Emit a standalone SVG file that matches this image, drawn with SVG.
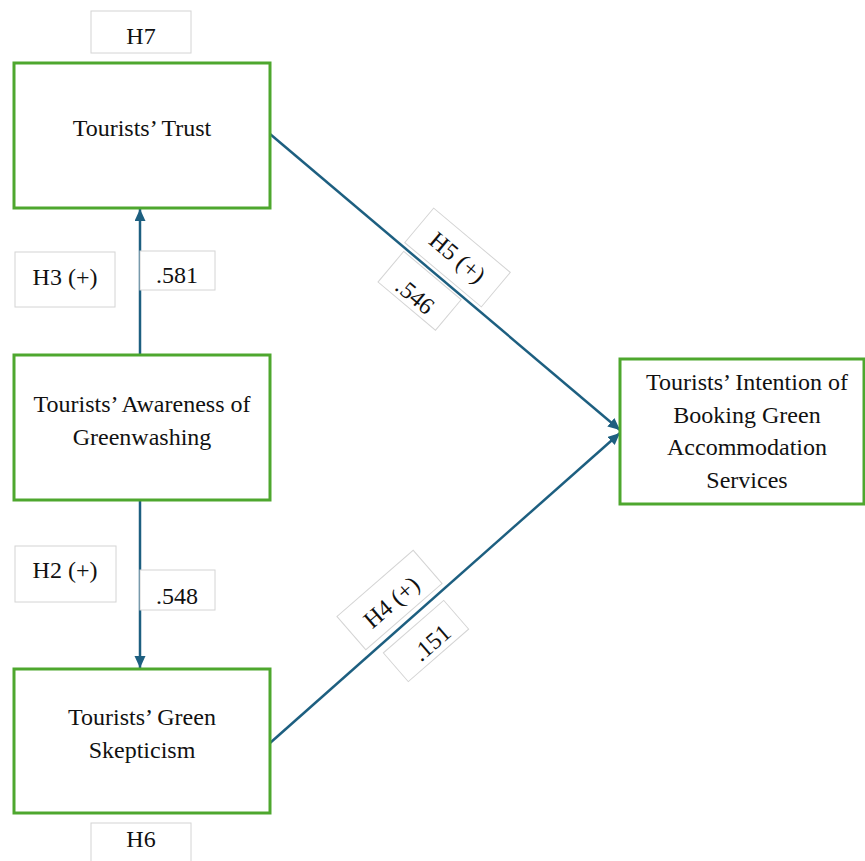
<svg xmlns="http://www.w3.org/2000/svg" width="865" height="861" viewBox="0 0 865 861">
<style>
.node{fill:#fff;stroke:#4ea72e;stroke-width:3}
.lbl{fill:#fff;stroke:#d4d4d4;stroke-width:1}
text{font-family:'Liberation Serif','Times New Roman',serif;font-size:24px;fill:#111;text-anchor:middle}
.conn{stroke:#1d5f80;stroke-width:2.5;fill:none;marker-end:url(#ah)}
</style>
<defs>
<marker id="ah" markerUnits="userSpaceOnUse" markerWidth="13" markerHeight="12" refX="12" refY="5.5" orient="auto">
<path d="M0,0 L12,5.5 L0,11 z" fill="#1d5f80"/>
</marker>
</defs>
<rect width="865" height="861" fill="#fff"/>

<g id="connectors">
<line class="conn" x1="140" y1="355" x2="140" y2="209"/>
<line class="conn" x1="140" y1="501" x2="140" y2="668"/>
<line class="conn" x1="270" y1="134" x2="620" y2="430"/>
<line class="conn" x1="270" y1="743" x2="620" y2="433"/>
</g>

<g id="trust">
<rect class="node" x="14" y="63" width="256" height="145"/>
<text x="142" y="136">Tourists’ Trust</text>
</g>
<g id="awareness">
<rect class="node" x="14" y="355" width="256" height="145"/>
<text x="142" y="412">Tourists’ Awareness of</text>
<text x="142" y="445">Greenwashing</text>
</g>
<g id="skepticism">
<rect class="node" x="14" y="669" width="256" height="144"/>
<text x="142" y="725">Tourists’ Green</text>
<text x="142" y="758">Skepticism</text>
</g>
<g id="intention">
<rect class="node" x="620" y="359" width="244" height="145"/>
<text x="747" y="390">Tourists’ Intention of</text>
<text x="747" y="423">Booking Green</text>
<text x="747" y="455">Accommodation</text>
<text x="747" y="488">Services</text>
</g>

<g id="label-h7">
<rect class="lbl" x="91" y="11" width="100" height="42"/>
<text x="141" y="44">H7</text>
</g>
<g id="label-h6">
<rect class="lbl" x="91" y="823" width="100" height="50"/>
<text x="141" y="847">H6</text>
</g>
<g id="label-h3">
<rect class="lbl" x="15" y="252" width="100" height="55"/>
<text x="65" y="285">H3 (+)</text>
</g>
<g id="label-581">
<rect class="lbl" x="140" y="251" width="75" height="39"/>
<text x="177" y="283">.581</text>
</g>
<g id="label-h2">
<rect class="lbl" x="15" y="546" width="101" height="56"/>
<text x="65" y="578">H2 (+)</text>
</g>
<g id="label-548">
<rect class="lbl" x="140" y="570" width="75" height="40"/>
<text x="177" y="604">.548</text>
</g>
<g id="label-h5" transform="translate(457.5,257.5) rotate(40)">
<rect class="lbl" x="-50" y="-22.5" width="100" height="45"/>
<text x="0" y="8">H5 (+)</text>
</g>
<g id="label-546" transform="translate(419.6,290.8) rotate(40)">
<rect class="lbl" x="-37.5" y="-20" width="75" height="40"/>
<text x="0" y="15">.546</text>
</g>
<g id="label-h4" transform="translate(389.5,600) rotate(-41)">
<rect class="lbl" x="-50.5" y="-22" width="101" height="44"/>
<text x="0" y="11">H4 (+)</text>
</g>
<g id="label-151" transform="translate(426,641) rotate(-41)">
<rect class="lbl" x="-40" y="-19" width="80" height="38"/>
<text x="3" y="13">.151</text>
</g>
</svg>
